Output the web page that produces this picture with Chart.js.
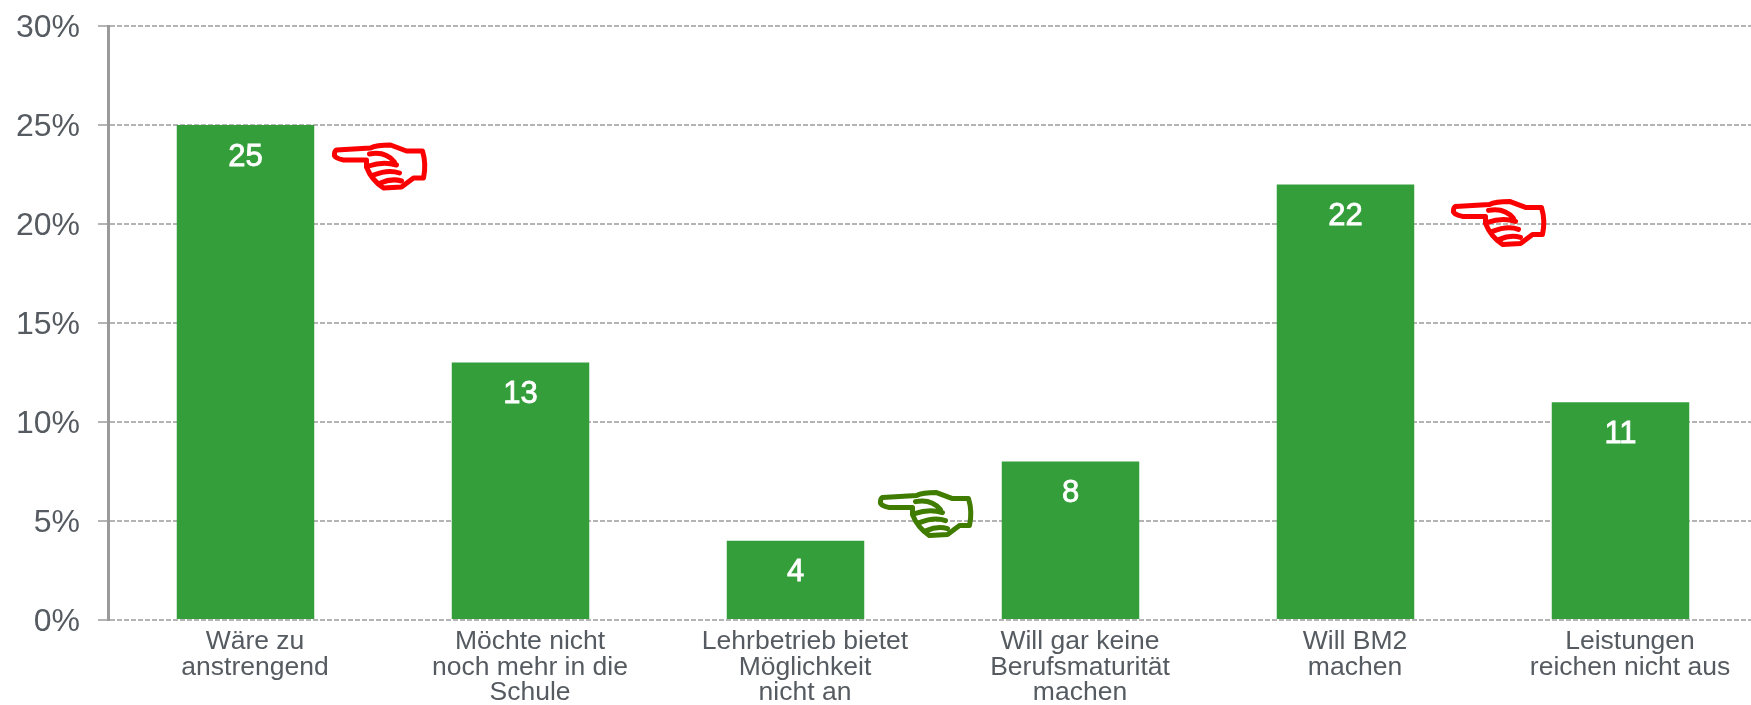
<!DOCTYPE html>
<html><head><meta charset="utf-8">
<script src="https://cdn.jsdelivr.net/npm/chart.js@4"></script>
<style>html,body{margin:0;padding:0;background:#fff;overflow:hidden;width:1751px;height:705px}
#wrap{position:absolute;left:0;top:0;width:1751px;height:705px;overflow:hidden}canvas{display:block}</style>
</head><body><div id="wrap"><canvas id="c" width="1760" height="705"></canvas></div>
<script>
const categories = [
  ["Wäre zu","anstrengend"],
  ["Möchte nicht","noch mehr in die","Schule"],
  ["Lehrbetrieb bietet","Möglichkeit","nicht an"],
  ["Will gar keine","Berufsmaturität","machen"],
  ["Will BM2","machen"],
  ["Leistungen","reichen nicht aus"]
];
const values = [25, 13, 4, 8, 22, 11];
const handCategories = [0, 3, 4];
const handColors = ["#fb0000", "#3f7c00", "#fb0000"];

const labelColor = '#555b60';
const valueLabels = {
  id: 'valueLabels',
  afterDatasetsDraw(chart) {
    const ctx = chart.ctx, meta = chart.getDatasetMeta(0);
    ctx.save();
    ctx.fillStyle = '#fff';
    ctx.strokeStyle = '#fff';
    ctx.lineWidth = 0.8;
    ctx.font = '31px "Liberation Sans"';
    ctx.textAlign = 'center';
    ctx.textBaseline = 'middle';
    meta.data.forEach((bar, i) => {
      ctx.fillText(String(values[i]), bar.x, bar.y + 32);
      ctx.strokeText(String(values[i]), bar.x, bar.y + 32);
    });
    ctx.restore();
  }
};

// Axis labels are drawn from the scales; the category labels sit slightly right of their bars
const axisLabels = {
  id: 'axisLabels',
  afterDraw(chart) {
    const ctx = chart.ctx, xs = chart.scales.x, ys = chart.scales.y;
    ctx.save();
    ctx.fillStyle = labelColor;
    ctx.textBaseline = 'middle';
    ctx.textAlign = 'right';
    ctx.font = '32px "Liberation Sans"';
    ys.ticks.forEach(t => ctx.fillText(t.value + '%', 80, ys.getPixelForValue(t.value) + 2));
    ctx.textAlign = 'center';
    ctx.font = '26.5px "Liberation Sans"';
    categories.forEach((lines, i) => {
      const cx = xs.getPixelForValue(i) + 9.5;
      lines.forEach((line, j) => ctx.fillText(line, cx, ys.bottom + 22 + j * 25.5));
    });
    ctx.restore();
  }
};

// Hand-drawn pointers, anchored to the top-centre of the related bar
const handOffsets = [[88, 19], [-191, 30], [107, 16]];
function drawHand(ctx, x, y, color) {
  ctx.save();
  ctx.translate(x, y);
  ctx.strokeStyle = color;
  ctx.lineWidth = 5;
  ctx.lineJoin = 'round';
  ctx.lineCap = 'round';
  ctx.beginPath();
  ctx.moveTo(3, 6);
  ctx.lineTo(37, 4);
  ctx.quadraticCurveTo(43, 1, 57, 1);
  ctx.lineTo(73, 7);
  ctx.lineTo(89, 7);
  ctx.quadraticCurveTo(93, 20, 90, 34);
  ctx.lineTo(80, 34);
  ctx.lineTo(68, 43);
  ctx.lineTo(50, 44);
  ctx.quadraticCurveTo(38, 36, 33, 23);
  ctx.lineTo(33, 16);
  ctx.lineTo(10, 16);
  ctx.quadraticCurveTo(0, 14, 1, 10);
  ctx.quadraticCurveTo(1, 7, 3, 6);
  ctx.stroke();
  ctx.beginPath();
  ctx.moveTo(36, 10); ctx.quadraticCurveTo(52, 7, 61, 18);
  ctx.moveTo(35, 22); ctx.quadraticCurveTo(50, 17, 63, 21);
  ctx.moveTo(40, 31); ctx.quadraticCurveTo(55, 25, 66, 29);
  ctx.moveTo(47, 39); ctx.quadraticCurveTo(58, 34, 68, 37);
  ctx.stroke();
  ctx.restore();
}
const hands = {
  id: 'hands',
  afterDraw(chart) {
    const meta = chart.getDatasetMeta(0);
    handCategories.forEach((cat, i) => {
      const bar = meta.data[cat];
      drawHand(chart.ctx, bar.x + handOffsets[i][0], bar.y + handOffsets[i][1], handColors[i]);
    });
  }
};

new Chart(document.getElementById('c'), {
  type: 'bar',
  data: {
    labels: categories,
    datasets: [{ data: values, backgroundColor: '#339e3a', borderWidth: 0, barPercentage: 0.5, categoryPercentage: 1 }]
  },
  options: {
    responsive: false,
    animation: false,
    layout: { padding: { top: 26, right: 2, left: 0, bottom: 0 } },
    plugins: { legend: { display: false }, title: { display: false }, tooltip: { enabled: false } },
    scales: {
      x: {
        grid: { display: false, drawTicks: false },
        border: { display: false },
        ticks: { display: false },
        afterFit(s) { s.height = 85; }
      },
      y: {
        min: 0, max: 30,
        grid: { color: '#b4b4b4', lineWidth: 2, tickLength: 10, drawOnChartArea: true },
        border: { color: '#9a9a9a', width: 3, dash: [5, 2] },
        ticks: { stepSize: 5, display: false },
        afterFit(s) { s.width = 108; }
      }
    }
  },
  plugins: [valueLabels, axisLabels, hands]
});
</script></body></html>
